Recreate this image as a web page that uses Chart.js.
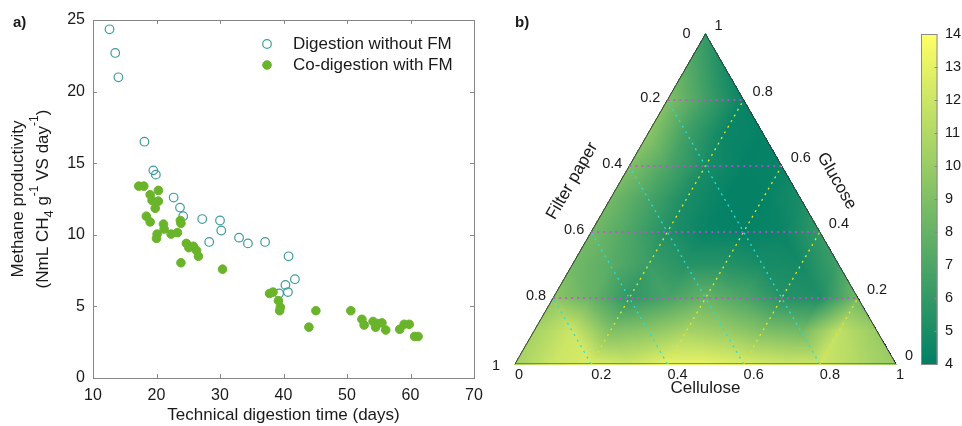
<!DOCTYPE html>
<html>
<head>
<meta charset="utf-8">
<script src="https://cdn.jsdelivr.net/npm/chart.js@4.4.0/dist/chart.umd.min.js"></script>
<style>
    html, body { margin: 0; padding: 0; background: #fff; }
    #wrap { position: relative; width: 962px; height: 426px; overflow: hidden; }
    #boxA { position: absolute; left: 0; top: 0; }
    #boxB { position: absolute; left: 480px; top: 0; }
</style>
</head>
<body>
<div id="wrap">
    <div id="boxA"><canvas id="scatterChart" width="500" height="426"></canvas></div>
    <div id="boxB"><canvas id="ternaryChart" width="482" height="426"></canvas></div>
</div>
<script>
// ---- panel a) data ----
const withoutFmDays = [12.6, 13.5, 14.0, 18.1, 19.5, 19.9, 22.7, 23.7, 24.2, 27.2, 28.3, 30.0, 30.2, 33.0, 34.4, 37.1, 40.8, 41.8, 40.3, 40.7, 39.3];
const withoutFmProd = [24.35, 22.7, 21.0, 16.5, 14.5, 14.2, 12.6, 11.9, 11.3, 11.1, 9.5, 11.0, 10.3, 9.8, 9.4, 9.5, 8.5, 6.9, 6.5, 6.0, 5.9];
const withFmDays = [17.2, 18.0, 19.0, 19.3, 20.3, 20.3, 19.8, 18.4, 19.0, 20.1, 20.0, 21.1, 21.2, 22.3, 23.3, 23.75, 23.85,
    24.7, 25.1, 25.8, 26.3, 26.6, 23.85, 30.4, 37.8, 38.35, 39.2, 39.5, 39.4, 44.0, 45.1, 50.6, 52.35, 52.7,
    54.1, 54.5, 54.8, 55.5, 56.1, 58.3, 59.0, 59.8, 60.65, 61.2];
const withFmProd = [13.4, 13.4, 12.8, 12.4, 13.1, 12.35, 11.85, 11.3, 10.9, 10.05, 9.75, 10.75, 10.4, 10.05, 10.15, 11.0, 10.8,
    9.4, 9.1, 9.2, 8.9, 8.5, 8.05, 7.6, 5.9, 6.0, 5.4, 4.95, 4.7, 3.55, 4.7, 4.7, 4.1, 3.7,
    3.95, 3.55, 3.8, 3.85, 3.35, 3.4, 3.75, 3.75, 2.9, 2.9];
const seriesNames = ['Digestion without FM', 'Co-digestion with FM'];
const dayTicks = [10, 20, 30, 40, 50, 60, 70];
const prodTicks = [0, 5, 10, 15, 20, 25];

// ---- panel b) data: methane productivity at ternary nodes, one row per glucose fraction (0, 0.1, ... 1),
// values listed by cellulose fraction 0, 0.1, ... up to 1 - glucose
const gluRow00 = [10.5, 12, 12.5, 12, 13, 13, 12.5, 12, 12, 11, 10];
const gluRow01 = [10.5, 12, 9, 9.5, 10.5, 10, 9, 8.5, 11.5, 10];
const gluRow02 = [9.5, 8, 5.8, 6.8, 8, 7, 5.5, 5.2, 8.5];
const gluRow03 = [8.5, 7.5, 6.3, 5.5, 5.5, 5, 4.8, 6.5];
const gluRow04 = [8.5, 7, 5.3, 4.3, 4.2, 4.4, 6];
const gluRow05 = [8.5, 6.8, 5, 4.2, 4.2, 5];
const gluRow06 = [9, 7, 5, 4.2, 4.3];
const gluRow07 = [9.5, 6.5, 4.5, 4.2];
const gluRow08 = [9, 6.5, 4.3];
const gluRow09 = [7.5, 5];
const gluRow10 = [6];
const ternaryRows = [gluRow00, gluRow01, gluRow02, gluRow03, gluRow04, gluRow05, gluRow06, gluRow07, gluRow08, gluRow09, gluRow10];
const ternaryTicks = [0, 0.2, 0.4, 0.6, 0.8, 1];
const ternaryTickLabels = ['0', '0.2', '0.4', '0.6', '0.8', '1'];
const gridFractions = [0.2, 0.4, 0.6, 0.8];
const colorbarTicks = [4, 5, 6, 7, 8, 9, 10, 11, 12, 13, 14];
const colorMin = 4, colorMax = 14;

const FONT = '"Liberation Sans", Arial, Helvetica, sans-serif';
const H = Math.sqrt(3) / 2;
const openColor = '#3f9c9c';
const fillColor = '#69b42b';

// ---------------- panel a) ----------------
const frameTicks = {
    id: 'frameTicks',
    afterDatasetsDraw(chart) {
        const { ctx, chartArea: a, scales: { x, y } } = chart;
        ctx.save();
        ctx.strokeStyle = '#858585';
        ctx.lineWidth = 1;
        ctx.strokeRect(Math.round(a.left) + 0.5, Math.round(a.top) + 0.5, Math.round(a.right - a.left), Math.round(a.bottom - a.top));
        ctx.beginPath();
        dayTicks.forEach(t => {
            const px = Math.round(x.getPixelForValue(t)) + 0.5;
            ctx.moveTo(px, a.bottom); ctx.lineTo(px, a.bottom - 4);
            ctx.moveTo(px, a.top); ctx.lineTo(px, a.top + 4);
        });
        prodTicks.forEach(t => {
            const py = Math.round(y.getPixelForValue(t)) + 0.5;
            ctx.moveTo(a.left, py); ctx.lineTo(a.left + 4, py);
            ctx.moveTo(a.right, py); ctx.lineTo(a.right - 4, py);
        });
        ctx.stroke();
        ctx.restore();
    },
    afterDraw(chart) {
        const { ctx, chartArea: a } = chart;
        ctx.save();
        ctx.fillStyle = '#1a1a1a';
        // panel letter
        ctx.font = 'bold 15px ' + FONT;
        ctx.textBaseline = 'middle';
        ctx.fillText('a)', 13, 23);

        // legend
        const ds = chart.data.datasets;
        const lx = 267, ly = [44, 65];
        ctx.font = '17px ' + FONT;
        ds.forEach((d, i) => {
            ctx.beginPath();
            ctx.arc(lx, ly[i], d.pointRadius, 0, Math.PI * 2);
            if (d.backgroundColor !== 'rgba(0,0,0,0)') { ctx.fillStyle = d.backgroundColor; ctx.fill(); }
            ctx.strokeStyle = d.borderColor; ctx.lineWidth = d.pointBorderWidth; ctx.stroke();
            ctx.fillStyle = '#1a1a1a';
            ctx.fillText(d.label, 293, ly[i]);
        });

        // y title, two lines, with sub/superscripts
        const cy = (a.top + a.bottom) / 2;
        ctx.save();
        ctx.translate(18, cy);
        ctx.rotate(-Math.PI / 2);
        ctx.textAlign = 'center';
        ctx.textBaseline = 'middle';
        ctx.font = '17px ' + FONT;
        ctx.fillText('Methane productivity', 0, 0);
        ctx.restore();

        const parts = [
            { t: '(NmL CH', s: 17, dy: 0 },
            { t: '4', s: 13, dy: 6 },
            { t: ' g', s: 17, dy: 0 },
            { t: '-1', s: 12, dy: -8 },
            { t: ' VS day', s: 17, dy: 0 },
            { t: '-1', s: 12, dy: -8 },
            { t: ')', s: 17, dy: 0 }
        ];
        let total = 0;
        parts.forEach(p => { ctx.font = p.s + 'px ' + FONT; p.w = ctx.measureText(p.t).width; total += p.w; });
        ctx.save();
        ctx.translate(43, cy);
        ctx.rotate(-Math.PI / 2);
        ctx.textBaseline = 'middle';
        ctx.textAlign = 'left';
        let cx = -total / 2;
        parts.forEach(p => {
            ctx.font = p.s + 'px ' + FONT;
            ctx.fillText(p.t, cx, p.dy);
            cx += p.w;
        });
        ctx.restore();
        ctx.restore();
    }
};

new Chart(document.getElementById('scatterChart'), {
    type: 'scatter',
    data: {
        datasets: [{
            label: seriesNames[0],
            data: withoutFmDays.map((d, i) => ({ x: d, y: withoutFmProd[i] })),
            backgroundColor: 'rgba(0,0,0,0)',
            borderColor: openColor,
            pointRadius: 4.3,
            pointBorderWidth: 1.2,
            order: 2
        }, {
            label: seriesNames[1],
            data: withFmDays.map((d, i) => ({ x: d, y: withFmProd[i] })),
            backgroundColor: fillColor,
            borderColor: fillColor,
            pointRadius: 4.3,
            pointBorderWidth: 1,
            order: 1
        }]
    },
    plugins: [frameTicks],
    options: {
        responsive: false,
        animation: false,
        layout: { padding: { top: 20, right: 26, left: 0, bottom: 0 } },
        plugins: { legend: { display: false }, tooltip: { enabled: false } },
        scales: {
            x: {
                type: 'linear', min: 10, max: 70,
                afterBuildTicks: s => { s.ticks = dayTicks.map(v => ({ value: v })); },
                afterFit: s => { s.height = 48; },
                grid: { display: false, drawTicks: false },
                border: { display: false },
                ticks: { color: '#1a1a1a', font: { size: 16, family: FONT }, padding: 8, maxRotation: 0 },
                title: { display: true, text: 'Technical digestion time (days)', color: '#1a1a1a', font: { size: 17, family: FONT }, padding: { top: 0, bottom: 0 } }
            },
            y: {
                type: 'linear', min: 0, max: 25,
                afterBuildTicks: s => { s.ticks = prodTicks.map(v => ({ value: v })); },
                afterFit: s => { s.width = 93; },
                grid: { display: false, drawTicks: false },
                border: { display: false },
                ticks: { color: '#1a1a1a', font: { size: 16, family: FONT }, padding: 8 }
            }
        }
    }
});

// ---------------- panel b) ----------------
function summer(v) {
    let t = (v - colorMin) / (colorMax - colorMin);
    t = Math.max(0, Math.min(1, t));
    return [Math.round(255 * t), Math.round(127.5 + 127.5 * t), 102];
}

// nodes of the ternary grid, as chart points (x, y in the equilateral frame)
const ternaryNodes = [];
ternaryRows.forEach((row, gi) => {
    row.forEach((v, ci) => {
        const g = gi / 10, c = ci / 10;
        ternaryNodes.push({ x: c + g / 2, y: g * H, v: v, gi: gi, ci: ci });
    });
});

function segmentsData(list) {
    const out = [];
    list.forEach(seg => { out.push(seg[0], seg[1], { x: null, y: null }); });
    return out;
}
const pt = (c, g) => ({ x: c + g / 2, y: g * H });
const glucoseLines = gridFractions.map(f => [pt(0, f), pt(1 - f, f)]);
const filterLines = gridFractions.map(f => [pt(f, 0), pt(0, f)]);
const celluloseLines = gridFractions.map(f => [pt(f, 0), pt(f, 1 - f)]);

const ternaryPaint = {
    id: 'ternaryPaint',
    beforeDatasetsDraw(chart) {
        const { ctx, chartArea: a, scales: { x, y } } = chart;
        const nodes = chart.data.datasets[0].data;
        const grid = ternaryRows.map(r => r.slice());
        nodes.forEach(n => { grid[n.gi][n.ci] = n.v; });
        const x0 = Math.floor(a.left) - 1, y0 = Math.floor(a.top) - 1;
        const w = Math.ceil(a.right - a.left) + 3, h = Math.ceil(a.bottom - a.top) + 3;
        const off = document.createElement('canvas');
        off.width = w; off.height = h;
        const octx = off.getContext('2d');
        const img = octx.createImageData(w, h);
        for (let j = 0; j < h; j++) {
            const yv = y.getValueForPixel(y0 + j + 0.5);
            const g = yv / H;
            if (g < -0.002 || g > 1.002) continue;
            for (let i = 0; i < w; i++) {
                const xv = x.getValueForPixel(x0 + i + 0.5);
                const c = xv - g / 2;
                const f = 1 - c - g;
                if (c < -0.002 || f < -0.002) continue;
                const gg = Math.max(0, Math.min(10, g * 10));
                const cc = Math.max(0, Math.min(10 - gg, c * 10));
                let gi = Math.min(9, Math.floor(gg));
                let ci = Math.floor(cc);
                if (gi + ci > 9) ci = 9 - gi;
                const fg = gg - gi, fc = cc - ci;
                let v;
                if (fg + fc <= 1) {
                    v = grid[gi][ci] * (1 - fg - fc) + grid[gi + 1][ci] * fg + grid[gi][ci + 1] * fc;
                } else {
                    v = grid[gi + 1][ci + 1] * (fg + fc - 1) + grid[gi + 1][ci] * (1 - fc) + grid[gi][ci + 1] * (1 - fg);
                }
                const col = summer(v);
                const k = (j * w + i) * 4;
                img.data[k] = col[0]; img.data[k + 1] = col[1]; img.data[k + 2] = col[2]; img.data[k + 3] = 255;
            }
        }
        octx.putImageData(img, 0, 0);
        ctx.drawImage(off, x0, y0);
    },
    afterDraw(chart) {
        const { ctx, chartArea: a, scales: { x, y } } = chart;
        const P = (c, g) => ({ x: x.getPixelForValue(c + g / 2), y: y.getPixelForValue(g * H) });
        ctx.save();
        ctx.fillStyle = '#1a1a1a';
        ctx.font = 'bold 15px ' + FONT;
        ctx.textBaseline = 'middle';
        ctx.textAlign = 'left';
        ctx.fillText('b)', 35, 23);

        ctx.font = '14.5px ' + FONT;
        ternaryTicks.forEach((t, i) => {
            const lab = ternaryTickLabels[i];
            // cellulose, bottom edge
            let p = P(t, 0);
            ctx.textAlign = 'left';
            ctx.fillText(lab, p.x, p.y + 11);
            // filter paper, left edge
            p = P(0, 1 - t);
            ctx.textAlign = 'right';
            const end = (t === 0 || t === 1);
            ctx.fillText(lab, p.x - (end ? 15 : 7), p.y + (t === 1 ? 2 : t === 0 ? 0 : -2));
            // glucose, right edge
            p = P(1 - t, t);
            ctx.textAlign = 'left';
            ctx.fillText(lab, p.x + 9, p.y - 8.5);
        });

        ctx.font = '17px ' + FONT;
        ctx.textAlign = 'center';
        let p = P(0.5, 0);
        ctx.fillText('Cellulose', p.x, p.y + 24);
        p = P(0, 0.5);
        ctx.save();
        ctx.translate(p.x - 38, p.y - 18);
        ctx.rotate(-Math.PI / 3);
        ctx.fillText('Filter paper', 0, 0);
        ctx.restore();
        p = P(0.5, 0.5);
        ctx.save();
        ctx.translate(p.x + 36, p.y - 18);
        ctx.rotate(Math.PI / 3);
        ctx.fillText('Glucose', 0, 0);
        ctx.restore();

        // colorbar
        const bx = 441, bw = 16.5;
        const yTop = y.getPixelForValue(H), yBot = y.getPixelForValue(0);
        for (let py = Math.floor(yTop); py < Math.ceil(yBot); py++) {
            const v = colorMin + (colorMax - colorMin) * y.getValueForPixel(py + 0.5) / H;
            const col = summer(v);
            ctx.fillStyle = 'rgb(' + col.join(',') + ')';
            ctx.fillRect(bx, py, bw, 1);
        }
        ctx.strokeStyle = '#8a8a8a';
        ctx.lineWidth = 1;
        ctx.strokeRect(bx + 0.5, Math.round(yTop) + 0.5, bw - 1, Math.round(yBot - yTop));
        ctx.fillStyle = '#1a1a1a';
        ctx.textAlign = 'left';
        ctx.font = '14.5px ' + FONT;
        ctx.beginPath();
        colorbarTicks.forEach(t => {
            const py = y.getPixelForValue((t - colorMin) / (colorMax - colorMin) * H);
            ctx.moveTo(bx + bw, Math.round(py) + 0.5);
            ctx.lineTo(bx + bw - 3, Math.round(py) + 0.5);
            ctx.fillText(String(t), 465, py);
        });
        ctx.stroke();
        ctx.restore();
    }
};

const dotted = { showLine: true, pointRadius: 0, borderWidth: 1.3, spanGaps: false, fill: false };

new Chart(document.getElementById('ternaryChart'), {
    type: 'scatter',
    data: {
        datasets: [
            { label: 'nodes', data: ternaryNodes, pointRadius: 0, showLine: false },
            Object.assign({ label: 'glucose', data: segmentsData(glucoseLines), borderColor: '#e03ce0', borderDash: [2, 4] }, dotted),
            Object.assign({ label: 'filter', data: segmentsData(filterLines), borderColor: '#22e0e0', borderDash: [2, 4.5] }, dotted),
            Object.assign({ label: 'cellulose', data: segmentsData(celluloseLines), borderColor: '#e6e62a', borderDash: [2, 4.5] }, dotted),
            { label: 'frame', data: [pt(0, 0), pt(1, 0), pt(0, 1), pt(0, 0)], showLine: true, pointRadius: 0,
              borderColor: '#3a3a3a', borderWidth: 1, fill: false }
        ]
    },
    plugins: [ternaryPaint],
    options: {
        responsive: false,
        animation: false,
        layout: { padding: { top: 34, right: 66, left: 35, bottom: 62 } },
        plugins: { legend: { display: false }, tooltip: { enabled: false } },
        scales: {
            x: { type: 'linear', min: 0, max: 1, display: false },
            y: { type: 'linear', min: 0, max: H, display: false }
        }
    }
});
</script>
</body>
</html>
